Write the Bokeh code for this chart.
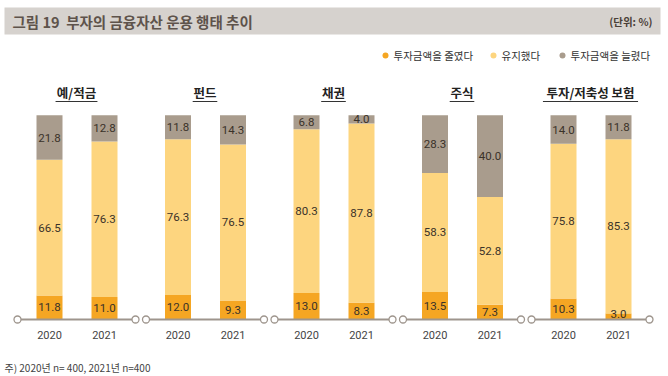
from bokeh.plotting import figure
from bokeh.models import Range1d, ColumnDataSource
from bokeh.core.properties import value
from bokeh.embed import file_html
from bokeh.resources import INLINE

# ---- data ----
categories = ["예/적금", "펀드", "채권", "주식", "투자/저축성 보험"]
years = ["2020", "2021"]
decreased = [[11.8, 11.0], [12.0, 9.3], [13.0, 8.3], [13.5, 7.3], [10.3, 3.0]]
kept = [[66.5, 76.3], [76.3, 76.5], [80.3, 87.8], [58.3, 52.8], [75.8, 85.3]]
increased = [[21.8, 12.8], [11.8, 14.3], [6.8, 4.0], [28.3, 40.0], [14.0, 11.8]]
series_names = ["투자금액을 줄였다", "유지했다", "투자금액을 늘렸다"]
title = "그림 19\u00a0\u00a0부자의 금융자산 운용 행태 추이"
unit = "(단위: %)"
note = "주) 2020년 n= 400, 2021년 n=400"

# ---- style ----
C_DEC = "#F5A623"
C_KEEP = "#FDD57F"
C_INC = "#A99C8D"
C_AXIS = "#9E958D"
KR = value("Noto Sans CJK KR")
NUM = value("Roboto")

W, H = 668, 376
BASE_SY, TOP_SY = 319, 115
PX = (BASE_SY - TOP_SY) / 100.0


def Y(sy):
    return (BASE_SY - sy) / PX


p = figure(width=W, height=H, output_backend="svg", toolbar_location=None,
           x_range=Range1d(0, W), y_range=Range1d(Y(H), Y(0)),
           x_axis_type=None, y_axis_type=None, min_border=0,
           outline_line_color=None, background_fill_color="white")
p.grid.visible = False

# title bar
p.quad(left=[4], right=[660], bottom=[Y(34)], top=[Y(7)], fill_color="#D6D2CE", line_color=None)
p.text(x=[12], y=[Y(21)], text=[title], text_font=KR, text_font_size="14.5px",
       text_font_style="bold", text_color="#5E534B", text_baseline="middle")
p.text(x=[652], y=[Y(21)], text=[unit], text_font=KR, text_font_size="10.5px",
       text_font_style="bold", text_color="#4A4038", text_baseline="middle", text_align="right")

# legend
leg_x = [385, 493, 562]
leg_c = [C_DEC, C_KEEP, C_INC]
p.scatter(x=leg_x, y=[Y(55)] * 3, size=6, fill_color=leg_c, line_color=None)
p.text(x=[lx + 8 for lx in leg_x], y=[Y(55)] * 3, text=series_names, text_font=KR,
       text_font_size="10.5px", text_color="#333333", text_baseline="middle")

# bars
g_start = [17 + i * 128.5 for i in range(len(categories))]
xs, b0, t0, t1, t2, lab_dec, lab_keep, lab_inc, yrs = [], [], [], [], [], [], [], [], []
for i, cat in enumerate(categories):
    for j, yr in enumerate(years):
        x = g_start[i] + (32 if j == 0 else 87)
        d, k, n = decreased[i][j], kept[i][j], increased[i][j]
        xs.append(x)
        b0.append(0)
        t0.append(d)
        t1.append(d + k)
        t2.append(d + k + n)
        lab_dec.append(d)
        lab_keep.append(k)
        lab_inc.append(n)
        yrs.append(yr)

src = ColumnDataSource(dict(x=xs, b0=b0, t0=t0, t1=t1, t2=t2))
p.vbar(x="x", bottom="b0", top="t0", width=26, fill_color=C_DEC, line_color=None, source=src)
p.vbar(x="x", bottom="t0", top="t1", width=26, fill_color=C_KEEP, line_color=None, source=src)
p.vbar(x="x", bottom="t1", top="t2", width=26, fill_color=C_INC, line_color=None, source=src)

# value labels
ly_dec = [max(t / 2, 2.8) for t in t0]
ly_keep = [(a + b) / 2 for a, b in zip(t0, t1)]
ly_inc = [(a + b) / 2 for a, b in zip(t1, t2)]
for ys, labs in ((ly_dec, lab_dec), (ly_keep, lab_keep), (ly_inc, lab_inc)):
    p.text(x=xs, y=ys, text=[f"{v:.1f}" for v in labs], text_font=NUM, text_font_size="11.5px",
           text_color="#3A3229", text_align="center", text_baseline="middle")

# axes per group
for i, gs in enumerate(g_start):
    p.line(x=[gs, gs + 118], y=[0, 0], line_color=C_AXIS, line_width=2)
    p.scatter(x=[gs, gs + 118], y=[0, 0], size=7, fill_color="white", line_color=C_AXIS, line_width=1.3)

# year labels
p.text(x=xs, y=[Y(334)] * len(xs), text=yrs, text_font=NUM, text_font_size="11px",
       text_color="#444444", text_align="center", text_baseline="middle")

# group titles with underline
centers = [gs + 59 for gs in g_start]
p.text(x=centers, y=[Y(92)] * len(centers), text=categories, text_font=KR, text_font_size="12.5px",
       text_font_style="bold", text_color="#222222", text_align="center", text_baseline="middle")


def tw(s):
    w = 0
    for ch in s:
        if ch == "/":
            w += 5
        elif ch == " ":
            w += 4
        else:
            w += 12.3
    return w


for c, cat in zip(centers, categories):
    w = tw(cat)
    p.line(x=[c - w / 2, c + w / 2], y=[Y(101)] * 2, line_color="#333333", line_width=1)

# note
p.text(x=[4], y=[Y(367)], text=[note], text_font=KR, text_font_size="10px",
       text_color="#444444", text_baseline="middle")

open("out.html", "w").write(file_html(p, INLINE))
